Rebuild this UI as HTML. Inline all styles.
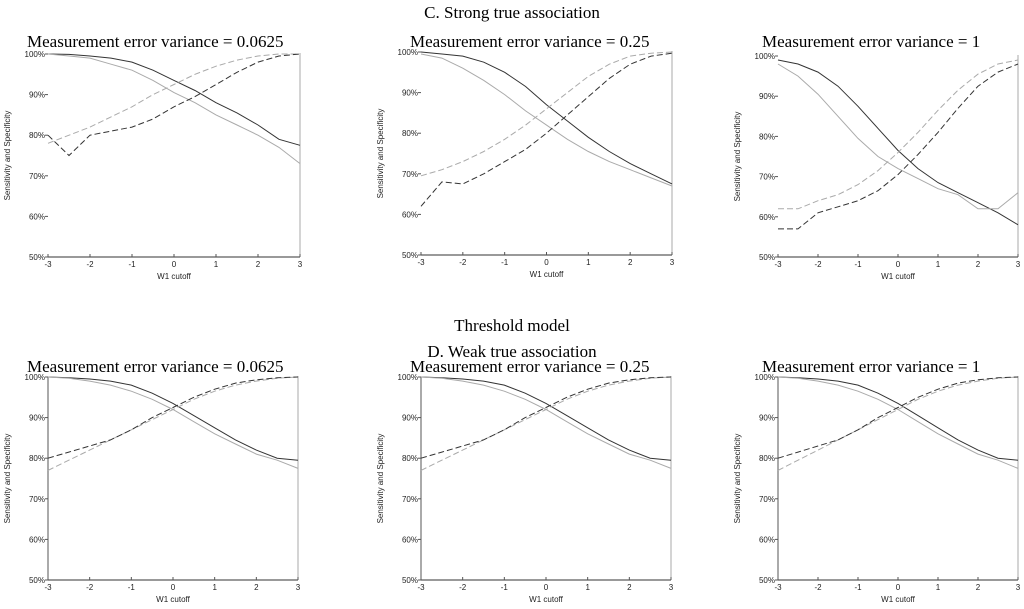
<!DOCTYPE html>
<html><head><meta charset="utf-8"><style>
html,body{margin:0;padding:0;background:#fff;}
svg{display:block;}
.ttl{font-family:"Liberation Serif",serif;font-size:17px;fill:#000;}
.ptl{font-family:"Liberation Serif",serif;font-size:17px;fill:#000;}
.tk{font-family:"Liberation Sans",sans-serif;font-size:8px;fill:#222;}
</style></head><body>
<svg id="c" width="1024" height="609" xmlns="http://www.w3.org/2000/svg">
<text class="ttl" x="512" y="18" text-anchor="middle">C. Strong true association</text>
<text class="ttl" x="512" y="331" text-anchor="middle">Threshold model</text>
<text class="ttl" x="512" y="357" text-anchor="middle">D. Weak true association</text>
</svg>
<script>
const xCats=[-3,-2.5,-2,-1.5,-1,-0.5,0,0.5,1,1.5,2,2.5,3];
const yTicks=[50,60,70,80,90,100];
const xTicks=[-3,-2,-1,0,1,2,3];
const panelTitles=["Measurement error variance = 0.0625","Measurement error variance = 0.25","Measurement error variance = 1"];
// C panels
const c1DarkSolid=[100,99.9,99.5,99,98,96,93.5,91,88,85.5,82.5,79,77.5];
const c1LightSolid=[100,99.5,99,97.5,96,93.5,90.5,88,85,82.5,80,77,73];
const c1LightDash=[78,80,82,84.5,87,90,92.5,95,97,98.5,99.5,100,100];
const c1DarkDash=[80,75,80,81,82,84,87,89.5,92.5,95.5,98,99.5,100];
const c2DarkSolid=[100,99.5,99,97.5,95,91.5,87,83,79,75.5,72.5,70,67.5];
const c2LightSolid=[99.5,98.5,96,93,89.5,85.5,82,78.5,75.5,73,71,69,67];
const c2LightDash=[69.5,71,73,75.5,78.5,82,86,90,94,97,99,99.7,100];
const c2DarkDash=[62,68,67.5,70,73,76,80,84.5,89,93.5,97,99,99.7];
const c3DarkSolid=[99,98,96,92.5,87.5,82,76.5,72,68.5,66,63.5,61,58];
const c3LightSolid=[98,95,90.5,85,79.5,75,72,69.5,67,65.5,62,62,66];
const c3LightDash=[62,62,64,65.5,68,71.5,76,81,86.5,91.5,95.5,98,99];
const c3DarkDash=[57,57,61,62.5,64,66.5,70.5,75.5,81,87,92.5,96,98];
// D panels
const dDarkSolid=[100,99.8,99.5,99,98,96,93.5,90.5,87.5,84.5,82,80,79.5];
const dLightSolid=[100,99.7,99,98,96.5,94.5,92,89,86,83.5,81,79.5,77.5];
const dLightDash=[77,79.5,82,84.5,87,89.5,92,94.5,96.5,98,99,99.7,100];
const dDarkDash=[80,81.5,83,84.5,87,90,92.5,95,97,98.5,99.3,99.8,100];

const svg=document.getElementById('c');
const NS="http://www.w3.org/2000/svg";
function mk(tag,attrs){const e=document.createElementNS(NS,tag);for(const k in attrs)e.setAttribute(k,attrs[k]);svg.appendChild(e);return e;}
const panels=[
 {x0:48,x1:300,y0:54,y1:257,t:0,tx:27,ty:47,s:[c1DarkSolid,c1LightSolid,c1LightDash,c1DarkDash],left:false},
 {x0:421,x1:672,y0:52,y1:255,t:1,tx:410,ty:47,s:[c2DarkSolid,c2LightSolid,c2LightDash,c2DarkDash],left:false},
 {x0:778,x1:1018,y0:56,y1:257,t:2,tx:762,ty:47,s:[c3DarkSolid,c3LightSolid,c3LightDash,c3DarkDash],left:false},
 {x0:48,x1:298,y0:377,y1:580,t:0,tx:27,ty:372,s:[dDarkSolid,dLightSolid,dLightDash,dDarkDash],left:true},
 {x0:421,x1:671,y0:377,y1:580,t:1,tx:410,ty:372,s:[dDarkSolid,dLightSolid,dLightDash,dDarkDash],left:true},
 {x0:778,x1:1018,y0:377,y1:580,t:2,tx:762,ty:372,s:[dDarkSolid,dLightSolid,dLightDash,dDarkDash],left:true}
];
const styles=[
 {stroke:"#333",dash:null,name:"specificity-observed-line"},
 {stroke:"#aaa",dash:null,name:"specificity-true-line"},
 {stroke:"#aaa",dash:"6,3",name:"sensitivity-true-line"},
 {stroke:"#333",dash:"6,3",name:"sensitivity-observed-line"}
];
panels.forEach((p,i)=>{
 const X=v=>p.x0+(v+3)/6*(p.x1-p.x0);
 const Y=v=>p.y1-(v-50)/50*(p.y1-p.y0);
 let t=mk('text',{class:'ptl',x:p.tx,y:p.ty});t.textContent=panelTitles[p.t];
 
 
 let a=mk('line',{x1:p.x0,x2:p.x1,y1:p.y1,y2:p.y1,stroke:'#333','stroke-width':1});
 
 
 let r=mk('line',{x1:p.x1,x2:p.x1,y1:p.y0-1,y2:p.y1,stroke:'#aaa','stroke-width':1});
 
 
 if(p.left){let l=mk('line',{x1:p.x0,x2:p.x0,y1:p.y0,y2:p.y1,stroke:'#555','stroke-width':1});
  
  }
 yTicks.forEach(v=>{
  let tk=mk('line',{x1:p.x0-3,x2:p.x0,y1:Y(v),y2:Y(v),stroke:'#555'});
  
  
  let tl=mk('text',{class:'tk',x:p.x0-3,y:Y(v)+3,'text-anchor':'end'});tl.textContent=v+'%';
  
  
 });
 xTicks.forEach(v=>{
  let tk=mk('line',{x1:X(v),x2:X(v),y1:p.y1-3,y2:p.y1,stroke:'#555'});
  
  
  let tl=mk('text',{class:'tk',x:X(v),y:p.y1+10,'text-anchor':'middle'});tl.textContent=v;
  
  
 });
 let xt=mk('text',{class:'tk',x:(p.x0+p.x1)/2,y:p.y1+22,'text-anchor':'middle'});xt.textContent='W1 cutoff';
 
 
 const cy=(p.y0+p.y1)/2, cx=p.x0-38;
 let yt=mk('text',{class:'tk',x:cx,y:cy,'text-anchor':'middle',transform:`rotate(-90 ${cx} ${cy})`});yt.textContent='Sensitivity and Specificity';
 
 
 p.s.forEach((ser,j)=>{
  const st=styles[j];
  const d=ser.map((v,k)=>(k?'L':'M')+X(xCats[k]).toFixed(1)+','+Y(v).toFixed(1)).join(' ');
  const at={d:d,fill:'none',stroke:st.stroke,'stroke-width':1};
  if(st.dash)at['stroke-dasharray']=st.dash;
  let pa=mk('path',at);
  
  
 });
});
</script>
</body></html>
